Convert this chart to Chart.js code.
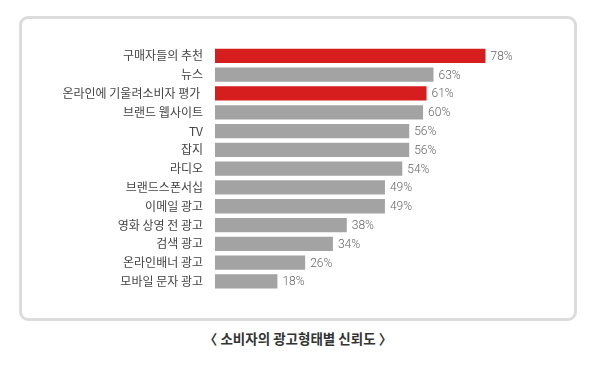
<!DOCTYPE html>
<html>
<head>
<meta charset="utf-8">
<script src="https://cdn.jsdelivr.net/npm/chart.js@4/dist/chart.umd.min.js"></script>
<style>
  html, body { margin: 0; padding: 0; background: #fff; }
  body { width: 600px; height: 370px; position: relative; overflow: hidden; }
  #box {
    position: absolute; left: 19px; top: 16px; width: 552px; height: 299px;
    border: 3px solid #dcdcdc; border-radius: 9px;
  }
  #wrap { position: absolute; left: 20px; top: 20px; width: 556px; height: 290px; }
  #title {
    position: absolute; left: 0; width: 596px; top: 328px; text-align: center;
    font: bold 13.5px "Noto Sans CJK KR", sans-serif; color: #333;
  }
</style>
</head>
<body>
<div id="box"></div>
<div id="wrap"><canvas id="myChart"></canvas></div>
<div id="title">〈 소비자의 광고형태별 신뢰도 〉</div>
<script>
var categories = ["구매자들의 추천", "뉴스", "온라인에 기울려소비자 평가 ", "브랜드 웹사이트", "TV", "잡지", "라디오",
  "브랜드스폰서십", "이메일 광고", "영화 상영 전 광고", "검색 광고", "온라인배너 광고", "모바일 문자 광고"]
var values = [78, 63, 61, 60, 56, 56, 54, 49, 49, 38, 34, 26, 18]
var highlighted = ["구매자들의 추천", "온라인에 기울려소비자 평가 "]

var colors = categories.map(function (c) {
  return highlighted.indexOf(c) >= 0 ? "#d61e1e" : "#a3a3a3"
})

// draws the "78%" text after each bar
var valueLabels = {
  id: 'valueLabels',
  afterDatasetsDraw: function (chart) {
    var ctx = chart.ctx
    var meta = chart.getDatasetMeta(0)
    ctx.save()
    ctx.font = '300 12px Roboto, sans-serif'
    ctx.fillStyle = '#666'
    ctx.textAlign = 'left'
    ctx.textBaseline = 'middle'
    meta.data.forEach(function (bar, i) {
      ctx.fillText(values[i] + '%', bar.x + 5, bar.y + 1)
    })
    ctx.restore()
  }
}

var ctx = document.getElementById("myChart").getContext("2d")
var chart = new Chart(ctx, {
  type: 'bar',
  data: {
    labels: categories,
    datasets: [{
      data: values,
      backgroundColor: colors,
      barPercentage: 0.76,
      categoryPercentage: 1
    }]
  },
  options: {
    indexAxis: 'y',
    responsive: true,
    maintainAspectRatio: false,
    animation: false,
    layout: { padding: { top: 26.5, bottom: 16.5, left: 0, right: 14.2 } },
    plugins: { legend: { display: false }, tooltip: { enabled: false } },
    scales: {
      x: { display: false, min: 0, max: 100 },
      y: {
        grid: { display: false, drawTicks: false },
        border: { display: false },
        afterFit: function (scale) { scale.width = 195 },
        ticks: {
          padding: 12,
          color: '#444',
          font: { family: '"Noto Sans CJK KR", sans-serif', size: 12 }
        }
      }
    }
  },
  plugins: [valueLabels]
})
</script>
</body>
</html>
